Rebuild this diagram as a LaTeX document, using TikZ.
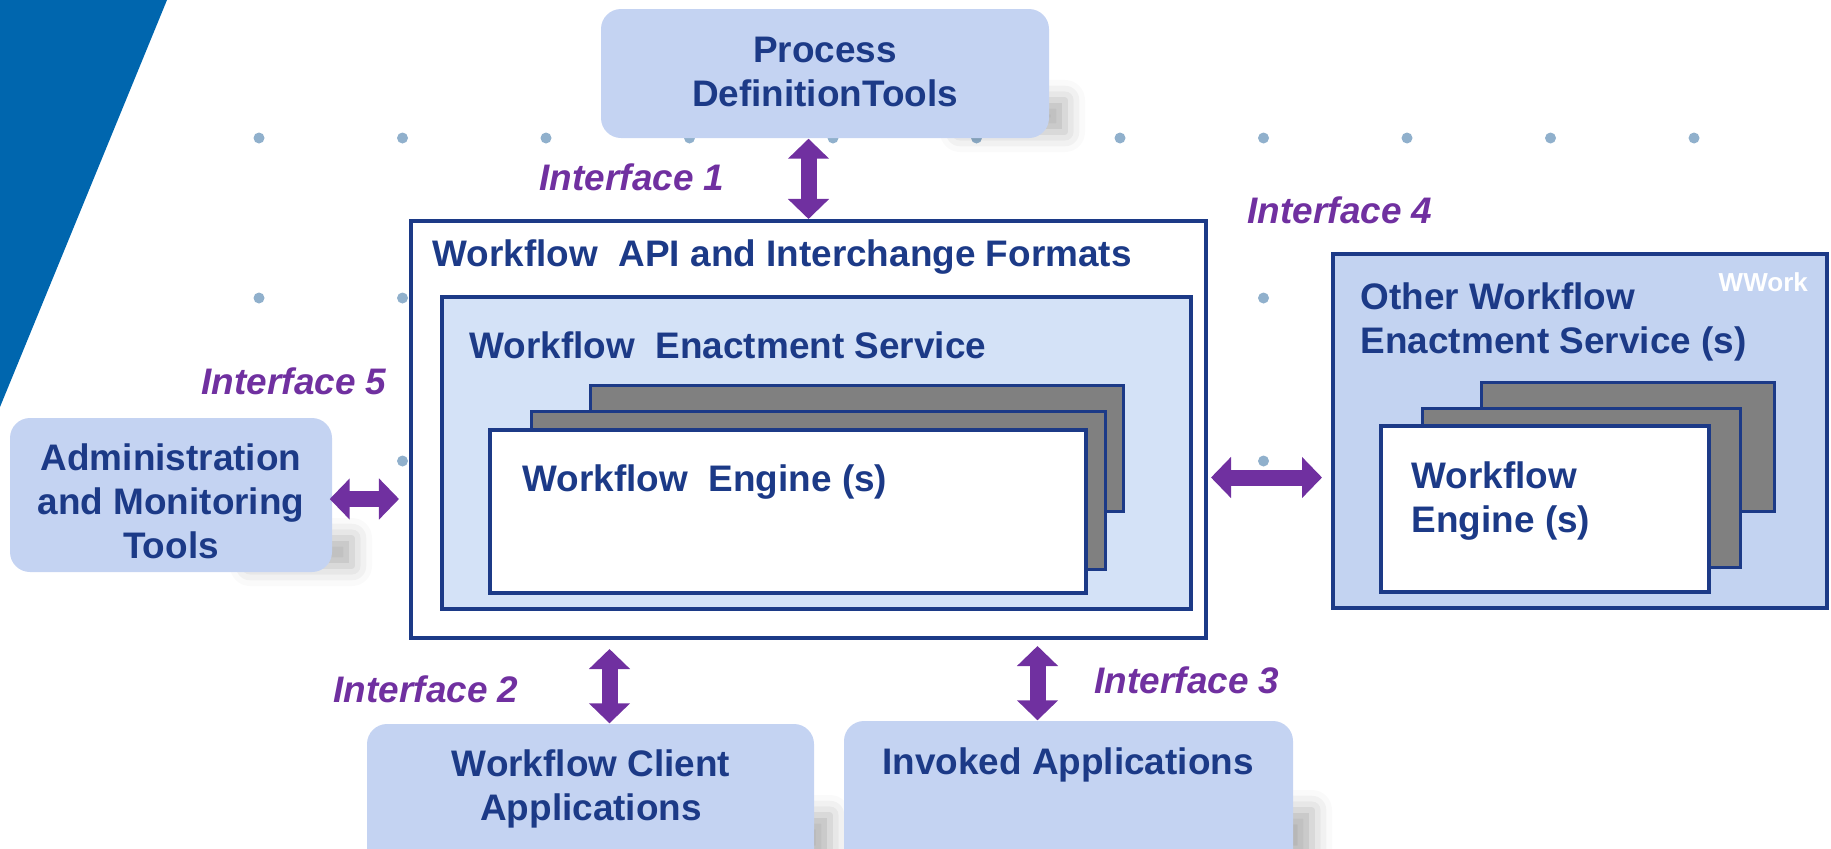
\documentclass[tikz,border=0pt]{standalone}
\usepackage{fontspec}
\setmainfont{Liberation Sans}
\usepackage{xcolor}
\usepackage{tikz}
\usetikzlibrary{arrows.meta,calc,fit,shadows.blur}

\definecolor{wfnavy}{HTML}{1C3A87}
\definecolor{wfpurple}{HTML}{7030A0}
\definecolor{wftool}{HTML}{C4D3F2}
\definecolor{wfservice}{HTML}{D4E2F7}
\definecolor{wfother}{HTML}{C3D3F1}
\definecolor{wfcard}{HTML}{808080}
\definecolor{wfcorner}{HTML}{0066AE}
\definecolor{wfdot}{HTML}{90B0CC}
\newcommand{\wfsize}{\fontsize{10.5pt}{12.5pt}\selectfont}

\tikzset{
  tool/.style={fill=wftool, rounded corners=0.2cm, inner sep=0pt},
  tooltext/.style={text=wfnavy, align=center, inner sep=0pt},
  frame/.style={draw=wfnavy, line width=0.04cm, inner sep=0pt},
  card/.style={draw=wfnavy, line width=0.03cm, fill=wfcard, inner sep=0pt},
  head/.style={text=wfnavy, anchor=base west, inner sep=0pt, align=left},
  iface/.style={text=wfpurple, font=\wfsize\bfseries\itshape, anchor=base west, inner sep=0pt},
  link/.style={draw=wfpurple, line width=0.16cm,
    {Triangle[width=0.4cm,length=0.2cm]}-{Triangle[width=0.4cm,length=0.2cm]}},
  drop/.style={blur shadow={shadow xshift=0cm, shadow yshift=0cm,
    shadow blur radius=0.2cm, shadow opacity=30}},
}

\begin{document}
\begin{tikzpicture}[x=0.01cm,y=-0.01cm,line join=miter,
  every node/.style={font=\wfsize\bfseries}]
\useasboundingbox (0,0) rectangle (1831,848);
\clip (0,0) rectangle (1831,848);

% backdrop
\fill[wfcorner] (0,0) -- (167,0) -- (0,407) -- cycle;
\foreach \i in {0,...,10}
  \foreach \j in {138,298,461}
    \fill[wfdot] (259+143.5*\i,\j) circle (0.055cm);

% shadows of the tool boxes
\path[drop] (960,100) rectangle (1065,132);
\path[drop] (250,538) rectangle (352,566);
\path[drop] (740,815) rectangle (830,860);
\path[drop] (1210,810) rectangle (1312,860);

% tools
\node[tool, fit={(601,9) (1049,138)}] (proc) {};
\node[tooltext] (proctxt) at (825,72) {Process\\DefinitionTools};
\node[tool, fit={(10,418) (332,572)}] (admin) {};
\node[tooltext] (admintxt) at (171,501) {Administration\\and Monitoring\\Tools};
\node[tool, fit={(367,724) (814,890)}] (client) {};
\node[tooltext] (clienttxt) at (591,789) {Workflow Client\\Applications};
\node[tool, fit={(844,721) (1293,890)}] (invoked) {};
\node[tooltext] (invokedtxt) at (1068,765) {Invoked Applications};

% workflow API and enactment service
\node[frame, fill=white, fit={(411,221) (1206,638)}] (api) {};
\node[head] (apititle) at (432,266) {Workflow\ \ API and Interchange Formats};
\node[frame, fill=wfservice, fit={(442,297) (1191,609)}] (service) {};
\node[head] (servicetitle) at (469,358) {Workflow\ \ Enactment Service};
\node[card, fit={(590,385) (1123,511)}] (engineb) {};
\node[card, fit={(531,411) (1105,569)}] (enginem) {};
\node[frame, fill=white, fit={(490,430) (1086,593)}] (enginef) {};
\node[head] (enginetitle) at (522,491) {Workflow\ \ Engine (s)};

% other enactment service
\node[frame, fill=wfother, fit={(1333,254) (1827,608)}] (other) {};
\node[head] (othertitle) at (1360,353) {Other Workflow\\Enactment Service (s)};
\node[text=white, anchor=base west, inner sep=0pt,
  font=\fontsize{7.4pt}{8pt}\selectfont\bfseries] (wwork) at (1718,291) {WWork};
\node[card, fit={(1481,382) (1774,511)}] (otherb) {};
\node[card, fit={(1422,408) (1740,567)}] (otherm) {};
\node[frame, fill=white, fit={(1381,426) (1709,592)}] (otherf) {};
\node[head] (otherengine) at (1411,532) {Workflow\\Engine (s)};

% interfaces
\draw[link] (api.north) -- (api.north |- proc.south);
\draw[link, shorten <=0.09cm] ($(api.south -| client.north)+(19,0)$) -- ($(client.north)+(19,0)$);
\draw[link, shorten <=0.06cm] ($(api.south -| invoked.north)+(-31,0)$) -- ($(invoked.north)+(-31,0)$);
\draw[link, shorten <=0.03cm, shorten >=0.09cm] ($(api.east)+(0,48)$) -- ($(api.east -| other.west)+(0,48)$);
\draw[link, shorten >=0.1cm] ($(admin.east)+(-3,4)$) -- ($(admin.east -| api.west)+(0,4)$);

\node[iface] (if1) at (539,190) {Interface 1};
\node[iface] (if4) at (1247,223) {Interface 4};
\node[iface] (if5) at (201,394) {Interface 5};
\node[iface] (if2) at (333,702) {Interface 2};
\node[iface] (if3) at (1094,693) {Interface 3};
\end{tikzpicture}
\end{document}
